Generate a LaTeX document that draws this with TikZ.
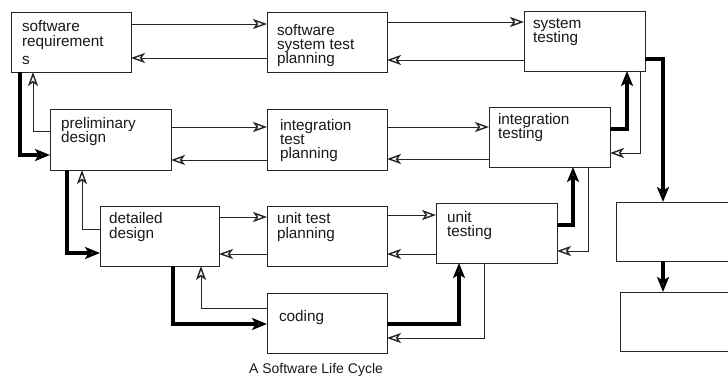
\documentclass[tikz,border=0pt]{standalone}
\usepackage{fontspec}
\setmainfont{Liberation Sans}
\usetikzlibrary{arrows.meta}
\begin{document}
\begin{tikzpicture}[x=1pt,y=-1pt,
  box/.style={draw=black!85,line width=0.9pt,inner sep=0pt,outer sep=0pt,anchor=north west},
  lbl/.style={anchor=base west,inner sep=0pt,outer sep=0pt,font=\fontsize{15.3}{14}\selectfont,text=black!90},
  thinarr/.style={draw=black!85,line width=0.9pt,-{Stealth[open,length=14pt,width=10pt,inset=3.5pt,line width=1.4pt]}},
  thinline/.style={draw=black!85,line width=0.9pt},
  thickarr/.style={draw=black,line width=3.5pt,-{Stealth[open,length=15pt,width=12pt,inset=3.5pt,line width=2.6pt]}}]
\useasboundingbox (0,0) rectangle (728,379);
% boxes
\node[box,minimum width=120pt,minimum height=60pt] (sr) at (11,12) {};
\node[box,minimum width=120pt,minimum height=60pt] (sstp) at (267,12) {};
\node[box,minimum width=121pt,minimum height=60pt] (st) at (524,11) {};
\node[box,minimum width=121pt,minimum height=61pt] (pd) at (50,109) {};
\node[box,minimum width=120pt,minimum height=61pt] (itp) at (267,109) {};
\node[box,minimum width=121pt,minimum height=60pt] (it) at (489,107) {};
\node[box,minimum width=119pt,minimum height=60pt] (dd) at (100,206) {};
\node[box,minimum width=120pt,minimum height=60pt] (utp) at (267,206) {};
\node[box,minimum width=121pt,minimum height=60pt] (ut) at (436,203) {};
\node[box,minimum width=120pt,minimum height=60pt] (cod) at (267,293) {};
\node[box,draw=none,minimum width=112pt,minimum height=59pt] (ra) at (616,202) {};
\node[box,draw=none,minimum width=108pt,minimum height=59pt] (rb) at (620,292) {};
\draw[thinline] (ra.north east) -- (ra.north west) -- (ra.south west) -- (ra.south east);
\draw[thinline] (rb.north east) -- (rb.north west) -- (rb.south west) -- (rb.south east);
% labels
\node[lbl] (sr1) at (22,32) {software};
\node[lbl] (sr2) at (22,47) {requirement};
\node[lbl] (sr3) at (22,65) {s};
\node[lbl] (ss1) at (277,36) {software};
\node[lbl] (ss2) at (277,50) {system test};
\node[lbl] (ss3) at (277,64) {planning};
\node[lbl] (st1) at (533,29) {system};
\node[lbl] (st2) at (533,43) {testing};
\node[lbl] (pd1) at (61,129) {preliminary};
\node[lbl] (pd2) at (61,143) {design};
\node[lbl] (ip1) at (280,131) {integration};
\node[lbl] (ip2) at (280,145) {test};
\node[lbl] (ip3) at (280,159) {planning};
\node[lbl] (it1) at (498,125) {integration};
\node[lbl] (it2) at (498,139) {testing};
\node[lbl] (dd1) at (109,224) {detailed};
\node[lbl] (dd2) at (109,239) {design};
\node[lbl] (up1) at (277,224) {unit test};
\node[lbl] (up2) at (277,239) {planning};
\node[lbl] (ut1) at (447,223) {unit};
\node[lbl] (ut2) at (447,237) {testing};
\node[lbl] (co1) at (279,321) {coding};
\node[anchor=base,inner sep=0pt,font=\fontsize{14}{16}\selectfont,text=black!90] (cap) at (316,373) {A Software Life Cycle};
% horizontal thin arrows
\draw[thinarr] (sr.east |- 0,24) -- (sstp.west |- 0,24);
\draw[thinarr] (sstp.west |- 0,58) -- (sr.east |- 0,58);
\draw[thinarr] (sstp.east |- 0,22) -- (st.west |- 0,22);
\draw[thinarr] (st.west |- 0,60) -- (sstp.east |- 0,60);
\draw[thinarr] (pd.east |- 0,127) -- (itp.west |- 0,127);
\draw[thinarr] (itp.west |- 0,160) -- (pd.east |- 0,160);
\draw[thinarr] (itp.east |- 0,127) -- (it.west |- 0,127);
\draw[thinarr] (it.west |- 0,159) -- (itp.east |- 0,159);
\draw[thinarr] (dd.east |- 0,217) -- (utp.west |- 0,217);
\draw[thinarr] (utp.west |- 0,254) -- (dd.east |- 0,254);
\draw[thinarr] (utp.east |- 0,215) -- (ut.west |- 0,215);
\draw[thinarr] (ut.west |- 0,254) -- (utp.east |- 0,254);
% thin feedback arrows
\draw[thinarr] (pd.west |- 0,131) -| (33,0 |- sr.south);
\draw[thinarr] (dd.west |- 0,229) -| (82,0 |- pd.south);
\draw[thinarr] (cod.west |- 0,308) -| (201,0 |- dd.south);
\draw[thinarr] (484,0 |- ut.south) |- (cod.east |- 0,338);
\draw[thinarr] (588,0 |- it.south) |- (ut.east |- 0,251);
\draw[thinarr] (640,0 |- st.south) |- (it.east |- 0,153);
% thick forward arrows
\draw[thickarr] (20,0 |- sr.south) |- (pd.west |- 0,155);
\draw[thickarr] (67,0 |- pd.south) |- (dd.west |- 0,253);
\draw[thickarr] (173,0 |- dd.south) |- (cod.west |- 0,324);
\draw[thickarr] (cod.east |- 0,324) -| (459,0 |- ut.south);
\draw[thickarr] (ut.east |- 0,225) -| (573,0 |- it.south);
\draw[thickarr] (it.east |- 0,129) -| (627,0 |- st.south);
\draw[thickarr] (st.east |- 0,59) -| (663,0 |- ra.north);
\draw[thickarr] (663,0 |- ra.south) -- (663,0 |- rb.north);
\end{tikzpicture}
\end{document}
